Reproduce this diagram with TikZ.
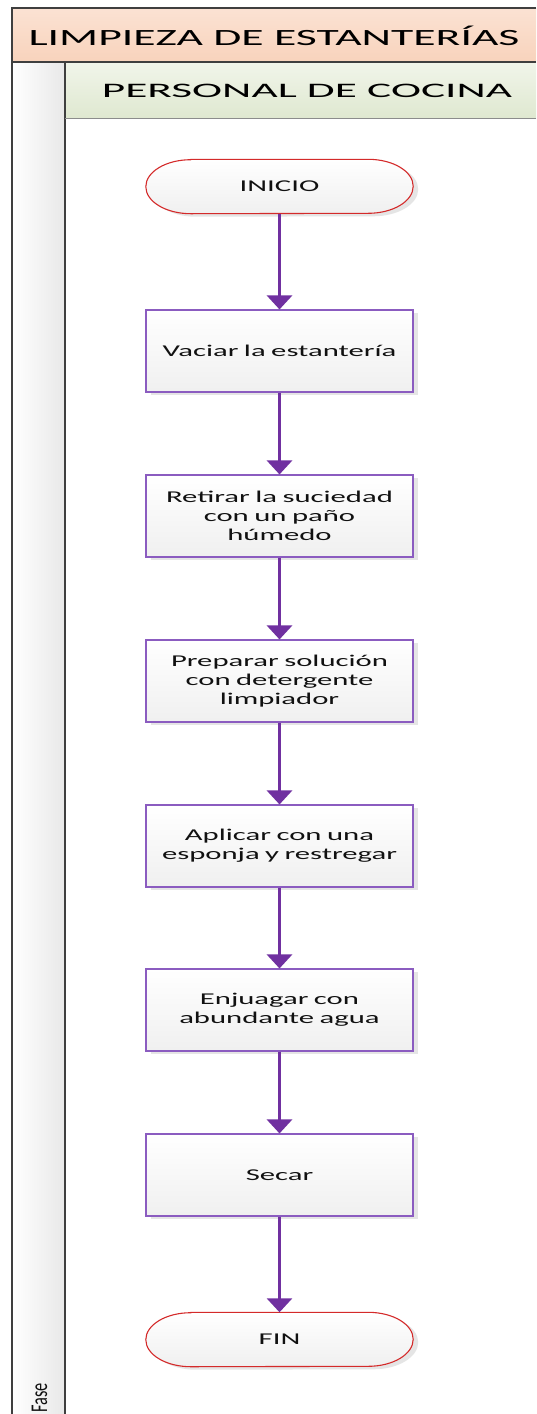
\documentclass[tikz,border=0pt]{standalone}
\usepackage{fontspec}
\usetikzlibrary{arrows.meta,shadows,backgrounds}
\setmainfont{Carlito}
\newfontfamily\boxfont[FakeStretch=1.86]{Carlito}
\newfontfamily\titlefont[FakeStretch=1.96]{Carlito}
\newfontfamily\lanefont[FakeStretch=2.2]{Carlito}
\newfontfamily\phasefont[FakeStretch=0.68]{Carlito}

\definecolor{framegray}{HTML}{3F3F3F}
\definecolor{titletop}{HTML}{FBE2D3}
\definecolor{titlebot}{HTML}{F8D3BC}
\definecolor{lanetop}{HTML}{F1F5EA}
\definecolor{lanebot}{HTML}{DFE8D0}
\definecolor{boxline}{HTML}{8B5CC0}
\definecolor{flowpurple}{HTML}{7030A0}
\definecolor{termred}{HTML}{D42A2A}
\definecolor{inktext}{HTML}{111111}

\tikzset{
  frameline/.style={draw=framegray, line width=2pt},
  softshadow/.style={drop shadow={opacity=1, fill=black!10,
    shadow xshift=5pt, shadow yshift=-3pt}},
  stepbox/.style={rectangle, draw=boxline, line width=1.1pt,
    minimum width=267pt, minimum height=82pt, inner sep=0pt,
    top color=white, bottom color=black!6, softshadow,
    text width=262pt, align=center, text=inktext,
    font=\boxfont\fontsize{16.5}{19}\selectfont},
  terminal/.style={rectangle, minimum width=267pt, minimum height=54pt,
    inner sep=0pt, text=inktext,
    font=\boxfont\fontsize{16.5}{19}\selectfont},
  termoutline/.style={draw=termred, line width=1.1pt,
    top color=white, bottom color=black!6, softshadow},
  flow/.style={draw=flowpurple, line width=3pt,
    -{Triangle[width=25pt,length=14pt]}}
}

% terminator outline with elliptical ends around a named node
\newcommand\terminatoroutline[1]{%
  \path[termoutline]
    ([xshift=45pt]#1.north west) -- ([xshift=-45pt]#1.north east)
    arc[start angle=90, end angle=-90, x radius=45pt, y radius=27pt]
    -- ([xshift=45pt]#1.south west)
    arc[start angle=270, end angle=90, x radius=45pt, y radius=27pt]
    -- cycle;}

\begin{document}
\begin{tikzpicture}[x=1pt,y=-1pt]
  \useasboundingbox (0,0) rectangle (536,1414);

  % process steps
  \node[terminal] (start) at (279.5,186.5) {INICIO};
  \node[stepbox] (s1) at (279.5,351) {Vaciar la estantería};
  \node[stepbox] (s2) at (279.5,516) {Retirar la suciedad\\con un paño\\húmedo};
  \node[stepbox] (s3) at (279.5,681) {Preparar solución\\con detergente\\limpiador};
  \node[stepbox] (s4) at (279.5,846) {Aplicar con una\\esponja y restregar};
  \node[stepbox] (s5) at (279.5,1010) {Enjuagar con\\abundante agua};
  \node[stepbox] (s6) at (279.5,1175) {Secar};
  \node[terminal] (end) at (279.5,1339.5) {FIN};

  % connectors
  \draw[flow] (start.south) -- (s1.north);
  \draw[flow] (s1.south) -- (s2.north);
  \draw[flow] (s2.south) -- (s3.north);
  \draw[flow] (s3.south) -- (s4.north);
  \draw[flow] (s4.south) -- (s5.north);
  \draw[flow] (s5.south) -- (s6.north);
  \draw[flow] (s6.south) -- (end.north);

  \begin{scope}[on background layer]
    % page, pool header, lane header and phase column
    \fill[white] (0,0) rectangle (536,1414);
    \fill[top color=titletop, bottom color=titlebot] (12,8) rectangle (536,62);
    \fill[top color=lanetop, bottom color=lanebot] (65,62) rectangle (536,118);
    \fill[left color=white, right color=black!9] (12,62) rectangle (65,1414);

    \draw[frameline] (536,8) -- (12,8) -- (12,1414);
    \draw[frameline] (12,62) -- (536,62);
    \draw[frameline] (65,62) -- (65,1414);
    \draw[draw=black!45, line width=1pt] (65,118) -- (536,118);

    % start and end terminators
    \terminatoroutline{start}
    \terminatoroutline{end}
  \end{scope}

  \node[font=\titlefont\fontsize{23.3}{26}\selectfont, text=black, inner sep=0pt]
    (pool) at (274,35.5) {LIMPIEZA DE ESTANTERÍAS};
  \node[font=\lanefont\fontsize{20.6}{24}\selectfont, text=black, inner sep=0pt]
    (lane) at (307,90.5) {PERSONAL DE COCINA};
  \node[font=\phasefont\fontsize{24}{28}\selectfont, text=inktext, rotate=90,
    anchor=base east, inner sep=0pt] (phase) at (47,1383) {Fase};
\end{tikzpicture}
\end{document}
